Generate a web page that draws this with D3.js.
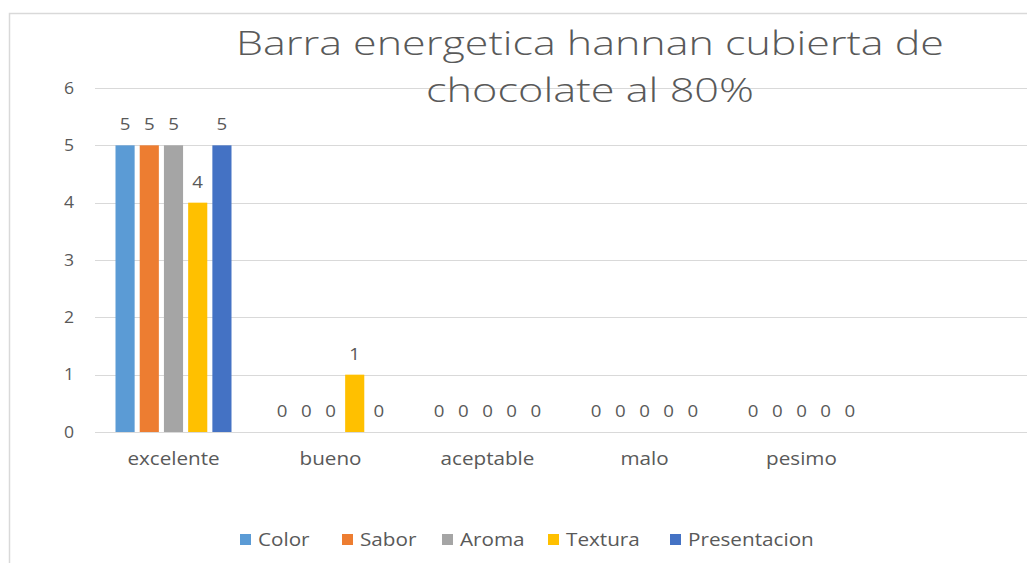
<!DOCTYPE html>
<html>
<head>
<meta charset="utf-8">
<script src="https://cdn.jsdelivr.net/npm/d3@7"></script>
<style>
  body { margin: 0; background: #fff; }
  text { font-family: "Open Sans", "Liberation Sans", sans-serif; fill: #595959; }
</style>
</head>
<body>
<script>
// data
var categories = ["excelente", "bueno", "aceptable", "malo", "pesimo"];
var seriesNames = ["Color", "Sabor", "Aroma", "Textura", "Presentacion"];
var color = [5, 0, 0, 0, 0];
var sabor = [5, 0, 0, 0, 0];
var aroma = [5, 0, 0, 0, 0];
var textura = [4, 1, 0, 0, 0];
var presentacion = [5, 0, 0, 0, 0];
var yTicks = [0, 1, 2, 3, 4, 5, 6];
var titleLines = ["Barra energetica hannan cubierta de", "chocolate al 80%"];

var seriesValues = [color, sabor, aroma, textura, presentacion];
var colors = ["#5B9BD5", "#ED7D31", "#A5A5A5", "#FFC000", "#4472C4"];

var svgWidth = 1027;
var svgHeight = 563;

var svg = d3.select("body")
    .append("svg")
    .attr("width", svgWidth)
    .attr("height", svgHeight);

// chart border
svg.append("rect")
    .attr("x", 9.5)
    .attr("y", 13.5)
    .attr("width", 1100)
    .attr("height", 700)
    .attr("fill", "#fff")
    .attr("stroke", "#D9D9D9")
    .attr("stroke-width", 1.5);

// scales
var plotLeft = 95;
var bandW = 157;
var xScale = d3.scaleBand()
    .domain(categories)
    .range([plotLeft, plotLeft + bandW * categories.length]);

var xInner = d3.scaleBand()
    .domain(seriesNames)
    .range([20.5, 20.5 + 116])
    .paddingInner(0.21);

var yScale = d3.scaleLinear()
    .domain([0, 6])
    .range([432, 88]);

// gridlines
svg.append("g")
    .selectAll("line")
    .data(yTicks)
    .enter()
    .append("line")
    .attr("x1", plotLeft)
    .attr("x2", 1040)
    .attr("y1", d => Math.round(yScale(d)) + 0.5)
    .attr("y2", d => Math.round(yScale(d)) + 0.5)
    .attr("stroke", "#D9D9D9")
    .attr("stroke-width", 1.2);

// y labels
svg.append("g")
    .selectAll("text")
    .data(yTicks)
    .enter()
    .append("text")
    .attr("transform", d => `translate(74, ${yScale(d)}) scale(1.1, 1)`)
    .attr("dy", "0.36em")
    .attr("text-anchor", "end")
    .attr("font-size", "16px")
    .text(d => d);

// x labels (reference text is stretched sideways)
svg.append("g")
    .selectAll("text")
    .data(categories)
    .enter()
    .append("text")
    .attr("transform", d => `translate(${xScale(d) + xScale.bandwidth() / 2}, 465) scale(1.18, 1)`)
    .attr("text-anchor", "middle")
    .attr("font-size", "17.5px")
    .text(d => d);

// bars
var groups = svg.append("g")
    .selectAll("g")
    .data(seriesNames)
    .enter()
    .append("g")
    .attr("fill", (d, i) => colors[i]);

groups.selectAll("rect")
    .data((s, i) => seriesValues[i].map((v, j) => ({ s: s, cat: categories[j], v: v })))
    .enter()
    .append("rect")
    .attr("x", d => xScale(d.cat) + xInner(d.s))
    .attr("width", xInner.bandwidth())
    .attr("y", d => yScale(d.v))
    .attr("height", d => yScale(0) - yScale(d.v));

// value labels
groups.selectAll("text")
    .data((s, i) => seriesValues[i].map((v, j) => ({ s: s, cat: categories[j], v: v })))
    .enter()
    .append("text")
    .attr("transform", d => `translate(${xScale(d.cat) + xInner(d.s) + xInner.bandwidth() / 2}, ${yScale(d.v) - 15}) scale(1.1, 1)`)
    .attr("text-anchor", "middle")
    .attr("font-size", "17px")
    .text(d => d.v);

// title
svg.append("g")
    .selectAll("text")
    .data(titleLines)
    .enter()
    .append("text")
    .attr("x", 590)
    .attr("y", (d, i) => 55 + i * 47)
    .attr("text-anchor", "middle")
    .attr("font-size", "33px")
    .attr("font-weight", 300)
    .attr("textLength", (d, i) => i === 0 ? 708 : 328)
    .attr("lengthAdjust", "spacingAndGlyphs")
    .text(d => d);

// legend
var legendX = [240, 342, 442, 548, 670];
var legend = svg.append("g")
    .selectAll("g")
    .data(seriesNames)
    .enter()
    .append("g")
    .attr("transform", (d, i) => `translate(${legendX[i]}, 534)`);

legend.append("rect")
    .attr("width", 11)
    .attr("height", 11)
    .attr("fill", (d, i) => colors[i]);

legend.append("text")
    .attr("transform", "translate(18, 11.5) scale(1.15, 1)")
    .attr("font-size", "18px")
    .text(d => d);
</script>
</body>
</html>
